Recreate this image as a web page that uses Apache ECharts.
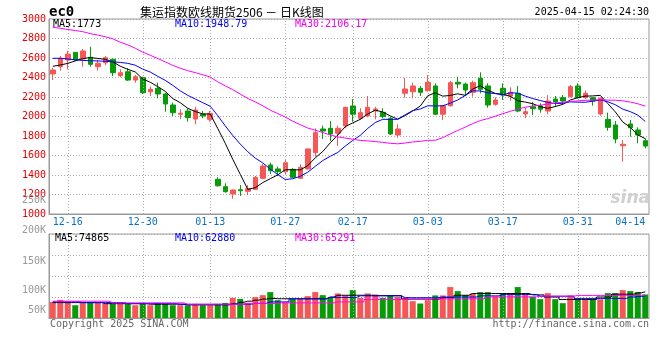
<!DOCTYPE html>
<html><head><meta charset="utf-8">
<script src="https://cdn.jsdelivr.net/npm/echarts@6/dist/echarts.min.js"></script>
<style>html,body{margin:0;padding:0;background:#fff}#c{width:660px;height:360px}</style>
</head><body><div id="c"></div>
<script>
const dates = ['12-12','12-13','12-16','12-17','12-18','12-19','12-20','12-23','12-24','12-25',
'12-26','12-27','12-30','12-31','01-02','01-03','01-06','01-07','01-08','01-09',
'01-10','01-13','01-14','01-15','01-16','01-17','01-20','01-21','01-22','01-23',
'01-24','01-27','02-05','02-06','02-07','02-10','02-11','02-12','02-13','02-14',
'02-17','02-18','02-19','02-20','02-21','02-24','02-25','02-26','02-27','02-28',
'03-03','03-04','03-05','03-06','03-07','03-10','03-11','03-12','03-13','03-14',
'03-17','03-18','03-19','03-20','03-21','03-24','03-25','03-26','03-27','03-28',
'03-31','04-01','04-02','04-03','04-07','04-08','04-09','04-10','04-11','04-14'];
const opens = [2436,2511,2579,2658,2590,2607,2511,2552,2587,2418,
2459,2374,2398,2254,2289,2231,2118,2023,2056,1974,
2026,1971,1356,1280,1205,1249,1233,1253,1366,1503,
1462,1434,1458,1366,1462,1629,1872,1879,1828,1903,
2108,1982,2005,2056,2043,1982,1810,2238,2254,2289,
2265,2313,2023,2111,2351,2333,2248,2392,2313,2125,
2289,2210,2238,2026,2100,2108,2056,2179,2193,2203,
2313,2193,2193,2026,1971,1913,1700,1923,1862,1752];
const closes = [2477,2597,2641,2579,2672,2535,2546,2603,2449,2449,
2374,2408,2244,2279,2231,2128,2039,2033,1988,2067,
2005,2033,1290,1229,1246,1239,1259,1376,1492,1444,
1434,1526,1376,1479,1667,1834,1851,1821,1879,2094,
2023,2039,2094,2077,1998,1821,1872,2282,2313,2248,
2351,2023,2111,2347,2333,2272,2347,2279,2118,2169,
2220,2248,2056,2049,2080,2074,2159,2149,2159,2306,
2193,2238,2159,2187,1889,1769,1715,1885,1810,1697];
const lows = [2374,2470,2484,2575,2511,2511,2470,2528,2415,2402,
2364,2347,2231,2210,2187,2049,2005,1974,1947,1920,
1982,1947,1280,1218,1157,1185,1195,1250,1356,1410,
1390,1400,1370,1359,1455,1588,1769,1749,1700,1879,
1947,1964,1992,1971,1982,1810,1783,2193,2187,2210,
2254,2015,1964,2100,2289,2210,2203,2238,2090,2111,
2169,2162,2043,1982,2015,2039,2023,2100,2118,2197,
2187,2179,2111,2008,1854,1725,1536,1793,1725,1674];
const highs = [2500,2620,2675,2660,2692,2716,2579,2620,2595,2484,
2494,2426,2408,2306,2347,2244,2142,2074,2084,2100,
2056,2059,1376,1315,1253,1297,1297,1390,1513,1526,
1485,1554,1470,1510,1674,1879,1906,1954,1906,2100,
2179,2084,2210,2100,2084,1998,1920,2398,2347,2313,
2426,2340,2115,2367,2408,2347,2367,2453,2340,2197,
2340,2300,2313,2090,2150,2135,2220,2210,2220,2323,
2340,2265,2200,2195,2039,1954,1759,1964,1889,1776];
const ma5 = [2515,2528,2545,2570,2593,2605,2595,2587,2561,2516,
2484,2457,2385,2351,2307,2258,2184,2142,2084,2051,
2026,2025,1877,1725,1561,1407,1253,1270,1322,1362,
1401,1454,1454,1452,1496,1576,1641,1730,1810,1896,
1934,1971,2026,2065,2046,2006,1972,2010,2057,2107,
2213,2243,2209,2216,2233,2217,2282,2316,2270,2237,
2227,2207,2162,2148,2131,2101,2084,2102,2124,2169,
2193,2209,2211,2217,2133,2048,1944,1889,1811,1773];
const ma10 = [2597,2597,2590,2582,2575,2572,2570,2566,2560,2555,
2545,2526,2486,2456,2412,2371,2320,2263,2217,2179,
2142,2105,2009,1904,1806,1717,1639,1573,1524,1461,
1404,1354,1362,1387,1429,1489,1548,1592,1631,1696,
1755,1806,1878,1938,1971,1970,1972,2018,2061,2077,
2110,2108,2110,2137,2170,2215,2263,2262,2243,2235,
2222,2244,2239,2209,2184,2164,2145,2132,2136,2150,
2147,2146,2157,2170,2151,2121,2076,2050,2015,1949];
const ma30 = [2915,2905,2893,2882,2870,2850,2835,2818,2797,2762,
2735,2700,2660,2628,2595,2560,2525,2495,2470,2450,
2428,2405,2355,2315,2275,2230,2185,2150,2110,2065,
2030,1995,1952,1916,1882,1859,1836,1810,1791,1779,
1767,1755,1750,1743,1735,1725,1720,1728,1739,1745,
1756,1756,1783,1821,1857,1891,1927,1958,1978,2003,
2029,2053,2076,2095,2108,2116,2127,2138,2147,2154,
2160,2166,2168,2172,2168,2167,2161,2148,2131,2106];
const volumes = [46000,51800,46000,36500,46000,43200,43200,40300,40300,40300,
40300,36500,43200,36500,43200,40300,36500,36500,36500,40300,
36500,36500,40300,43200,57600,54700,43200,59600,65300,74000,
50900,46000,53800,53800,62500,74000,65300,57600,70200,64500,
79700,57600,70200,67300,57600,64500,60400,58700,48100,41400,
50900,64500,64500,88400,76800,65300,70200,74000,74000,61600,
71100,67300,88400,67300,60400,53800,71100,53800,42300,64500,
53800,53800,53800,53800,71100,71100,79700,76800,74000,67300];
const volMa5 = [44000,44000,44000,44000,44000,44000,44000,41000,41000,41000,
41000,41000,41000,39500,39500,39500,39500,39500,37500,37500,
37500,37500,37500,37500,41000,45000,48000,51000,54000,56000,
55000,55000,55000,55000,55000,55000,55000,60000,65000,65000,
65000,65000,65000,64000,64000,64000,64000,54000,54000,54000,
54000,54000,58000,58000,65000,65000,70000,70000,70000,70000,
70000,70000,70000,70000,66000,66000,60000,60000,53000,53000,
53000,53000,53000,60000,60000,68000,68000,68000,72000,74865];
const volMa10 = [46000,46000,46000,46000,44000,44000,44000,44000,44000,44000,
41000,41000,41000,41000,41000,41000,41000,39000,39000,39000,
39000,39000,39000,39000,39500,39500,39500,42000,42000,46000,
46000,46000,54700,54700,54700,54700,54700,58700,58700,58700,
58700,63300,63300,63300,63300,63300,63300,58000,58000,58000,
58000,58000,60000,60000,60000,60000,60000,63300,63300,63300,
67300,67300,67300,67300,67300,62000,62000,62000,62000,62000,
56000,56000,56000,56000,56000,56000,56000,60000,61500,62880];
const volMa30 = [48000,48000,48000,48000,48000,48000,48000,48000,43200,43200,
43200,43200,43200,43200,43200,43200,43200,43200,39400,39400,
39400,39400,39400,39400,39400,39400,41400,41400,41400,41400,
43200,43200,43200,43200,43200,43200,43200,43200,46000,46000,
46000,46000,53000,53000,53000,53000,53000,53000,54700,54700,
54700,54700,54700,54700,54700,54700,54700,54700,60400,60400,
60400,60400,60400,60400,60400,62500,62500,62500,62500,62500,
64500,64500,64500,64500,64500,64500,64500,64500,64500,65291];
const dateTicks = ['12-16','12-30','01-13','01-27','02-17','03-03','03-17','03-31','04-14'];
const volTickLabels = ['250K','200K','150K','100K','50K'];
const legendPrice = ['MA5:1773','MA10:1948.79','MA30:2106.17'];
const legendVol = ['MA5:74865','MA10:62880','MA30:65291'];

const UP = '#f55757', DOWN = '#079b07';
const MONO = '"DejaVu Sans Mono", monospace';
const GRID = '#aaaaaa', FRAME = '#9a9a9a';

const chart = echarts.init(document.getElementById('c'));
const candleData = dates.map((d, i) => [opens[i], closes[i], lows[i], highs[i]]);
const volData = volumes.map((v, i) => ({ value: v, itemStyle: { color: closes[i] >= opens[i] ? UP : DOWN } }));
const vLines = dateTicks.filter(d => d !== '04-14').map(d => ({ xAxis: d }));
const markVert = {
  silent: true, symbol: ['none', 'none'], label: { show: false }, animation: false,
  lineStyle: { color: GRID, type: [1, 2], width: 1 }, emphasis: { disabled: true }, data: vLines
};
function maLine(data, color, xi, yi, step) {
  return { type: 'line', data, xAxisIndex: xi, yAxisIndex: yi, showSymbol: false, symbol: 'none',
    step: step || false, silent: true, z: 5, lineStyle: { width: 1, color }, itemStyle: { color } };
}
function txt(text, x, y, fill, opts) {
  opts = opts || {};
  return { type: 'text', x, y, silent: true, z: 100, style: { text, fill,
    font: opts.font || ('10px ' + MONO), align: opts.align || 'left', verticalAlign: 'middle' } };
}
const graphics = [
  txt('ec0', 49, 12, '#000', { font: 'bold 14px ' + MONO }),
  txt('集运指数欧线期货2506 － 日K线图', 140, 12, '#000', { font: '12px "Noto Sans CJK SC"' }),
  txt('2025-04-15 02:24:30', 649, 12, '#000', { align: 'right' }),
  txt(legendPrice[0], 53, 24, '#000'),
  txt(legendPrice[1], 175, 24, '#0000ee'),
  txt(legendPrice[2], 295, 24, '#ee00ee'),
  txt(legendVol[0], 55, 238.5, '#000'),
  txt(legendVol[1], 175, 238.5, '#0000ee'),
  txt(legendVol[2], 295, 238.5, '#ee00ee'),
  txt(volTickLabels[0], 46, 200.5, '#999', { align: 'right' }),
  txt(volTickLabels[1], 46, 230.5, '#999', { align: 'right' }),
  txt(volTickLabels[2], 46, 261, '#999', { align: 'right' }),
  txt(volTickLabels[3], 46, 290, '#999', { align: 'right' }),
  txt(volTickLabels[4], 46, 310, '#999', { align: 'right' }),
  txt('Copyright 2025 SINA.COM', 50, 324, '#666'),
  txt('http://finance.sina.com.cn', 649, 324, '#666', { align: 'right' }),
  txt('sina', 650, 199, '#d0d0d0', { align: 'right', font: 'italic bold 17px "DejaVu Sans"' })
];

chart.setOption({
  animation: false,
  backgroundColor: '#fff',
  grid: [
    { left: 49, top: 19, width: 600, height: 195, show: true, borderColor: FRAME, borderWidth: 1 },
    { left: 49, top: 234, width: 600, height: 84, show: true, borderColor: FRAME, borderWidth: 1 }
  ],
  xAxis: [
    { type: 'category', gridIndex: 0, data: dates, boundaryGap: true,
      axisLine: { show: true, lineStyle: { color: FRAME } }, axisTick: { show: false },
      splitLine: { show: false },
      axisLabel: { interval: (i, v) => dateTicks.includes(v), color: '#0a72c6', fontSize: 10,
        fontFamily: MONO, margin: 3, alignMaxLabel: 'right', showMaxLabel: true } },
    { type: 'category', gridIndex: 1, data: dates, boundaryGap: true,
      axisLine: { show: true, lineStyle: { color: FRAME } }, axisTick: { show: false },
      splitLine: { show: false }, axisLabel: { show: false } }
  ],
  yAxis: [
    { type: 'value', gridIndex: 0, min: 1000, max: 3000, interval: 200,
      axisLine: { show: true, lineStyle: { color: FRAME } }, axisTick: { show: false },
      splitLine: { show: true, lineStyle: { color: GRID, type: [1, 2] } },
      axisLabel: { color: '#e60000', fontSize: 10, fontFamily: MONO, margin: 3, padding: [0, 0, 3, 0],
        formatter: v => String(v) } },
    { type: 'value', gridIndex: 1, min: 0, max: 240000, interval: 60000,
      axisLine: { show: true, lineStyle: { color: FRAME } }, axisTick: { show: false },
      splitLine: { show: true, lineStyle: { color: GRID, type: [1, 2] } },
      axisLabel: { show: false } }
  ],
  series: [
    { type: 'candlestick', xAxisIndex: 0, yAxisIndex: 0, data: candleData, barWidth: 5, silent: true,
      itemStyle: { color: UP, color0: DOWN, borderColor: UP, borderColor0: DOWN, borderWidth: 1 },
      markLine: markVert },
    maLine(ma5, '#000000', 0, 0),
    maLine(ma10, '#0000ff', 0, 0),
    maLine(ma30, '#ff00ff', 0, 0),
    { type: 'bar', xAxisIndex: 1, yAxisIndex: 1, data: volData, barWidth: 6, silent: true,
      markLine: markVert },
    maLine(volMa5, '#000000', 1, 1, 'middle'),
    maLine(volMa10, '#0000ff', 1, 1, 'middle'),
    maLine(volMa30, '#ff00ff', 1, 1, 'middle')
  ],
  graphic: graphics
});
</script></body></html>
